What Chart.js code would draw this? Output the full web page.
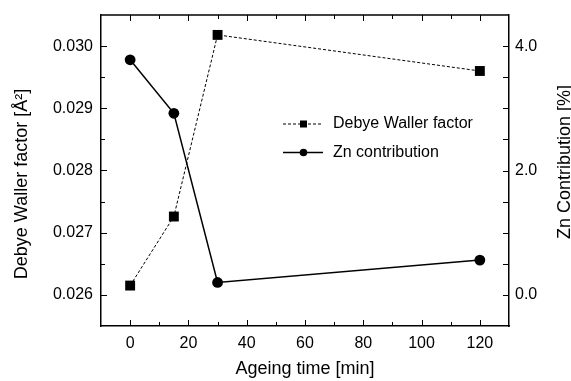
<!DOCTYPE html>
<html>
<head>
<meta charset="utf-8">
<script src="https://cdn.jsdelivr.net/npm/chart.js@4"></script>
<style>
  html, body { margin: 0; padding: 0; background: #fff; }
  #chart { display: block; }
</style>
</head>
<body>
<canvas id="chart" width="571" height="381"></canvas>
<script>
// ageing time in minutes
const ageingTimes = [0, 15, 30, 120];
const debyeWaller = [0.02615, 0.02726, 0.03018, 0.0296];
const znContribution = [3.78, 2.92, 0.20, 0.56];

// tick labels
const xTicks = [0, 20, 40, 60, 80, 100, 120];
const leftTicks = [0.026, 0.027, 0.028, 0.029, 0.030];
const rightTicks = [0.0, 2.0, 4.0];

const FONT = "'Liberation Sans', Arial, sans-serif";

// inward tick marks, frame, axis titles on the sides and legend
const decorations = {
    id: 'decorations',
    afterDraw(chart) {
        const ctx = chart.ctx;
        const area = chart.chartArea;
        const x = chart.scales.x, y = chart.scales.y, y1 = chart.scales.y1;

        ctx.save();
        ctx.strokeStyle = '#000';

        // top frame line
        ctx.lineWidth = 1.5;
        ctx.beginPath();
        ctx.moveTo(area.left, area.top);
        ctx.lineTo(area.right, area.top);
        ctx.stroke();

        ctx.lineWidth = 1;
        ctx.beginPath();
        // x: every 10 min, majors on 20
        for (let i = 0; i <= 12; i++) {
            const v = i * 10;
            const px = Math.round(x.getPixelForValue(v)) + 0.5;
            const len = v % 20 === 0 ? 6 : 4;
            ctx.moveTo(px, area.bottom); ctx.lineTo(px, area.bottom - len);
            ctx.moveTo(px, area.top); ctx.lineTo(px, area.top + len);
        }
        // left: every 0.0005
        for (let i = 52; i <= 60; i++) {
            const py = Math.round(y.getPixelForValue(i / 2000)) + 0.5;
            const len = i % 2 === 0 ? 6 : 4;
            ctx.moveTo(area.left, py); ctx.lineTo(area.left + len, py);
        }
        // right: every 0.5
        for (let i = 0; i <= 8; i++) {
            const py = Math.round(y1.getPixelForValue(i / 2)) + 0.5;
            ctx.moveTo(area.right, py); ctx.lineTo(area.right - 6, py);
        }
        ctx.stroke();

        // side titles, both read bottom-to-top
        ctx.fillStyle = '#000';
        ctx.font = '18px ' + FONT;
        ctx.textAlign = 'center';
        ctx.textBaseline = 'middle';
        ctx.save();
        ctx.translate(22, 184);
        ctx.rotate(-Math.PI / 2);
        ctx.fillText('Debye Waller factor [Å²]', 0, 0);
        ctx.restore();
        ctx.translate(565, 162);
        ctx.rotate(-Math.PI / 2);
        ctx.fillText('Zn Contribution [%]', 0, 0);
        ctx.restore();

        // legend
        ctx.save();
        const lx = area.left + 182, rows = [area.top + 109, area.top + 137.5];
        chart.data.datasets.forEach((ds, i) => {
            const ly = rows[i];
            ctx.strokeStyle = '#000';
            ctx.lineWidth = ds.borderWidth;
            ctx.setLineDash(ds.borderDash || []);
            ctx.beginPath();
            ctx.moveTo(lx, ly); ctx.lineTo(lx + 40, ly);
            ctx.stroke();
            ctx.setLineDash([]);
            ctx.fillStyle = '#000';
            ctx.beginPath();
            if (ds.pointStyle === 'rect') ctx.rect(lx + 17, ly - 3.5, 7, 7);
            else ctx.arc(lx + 20.5, ly, 3.8, 0, Math.PI * 2);
            ctx.fill();
            ctx.font = '16px ' + FONT;
            ctx.textAlign = 'left';
            ctx.textBaseline = 'middle';
            ctx.fillText(ds.label, lx + 50, ly);
        });
        ctx.restore();
    }
};

const noPad = (scale) => {
    scale.paddingTop = 0; scale.paddingBottom = 0;
    scale.paddingLeft = 0; scale.paddingRight = 0;
};

new Chart(document.getElementById('chart'), {
    type: 'line',
    data: {
        datasets: [{
            label: 'Debye Waller factor',
            data: ageingTimes.map((t, i) => ({ x: t, y: debyeWaller[i] })),
            yAxisID: 'y',
            borderColor: '#000',
            backgroundColor: '#000',
            borderWidth: 1,
            borderDash: [3, 2],
            pointStyle: 'rect',
            pointRadius: 7,
            pointBorderWidth: 0,
            tension: 0
        }, {
            label: 'Zn contribution',
            data: ageingTimes.map((t, i) => ({ x: t, y: znContribution[i] })),
            yAxisID: 'y1',
            borderColor: '#000',
            backgroundColor: '#000',
            borderWidth: 1.5,
            pointStyle: 'circle',
            pointRadius: 5.4,
            pointBorderWidth: 0,
            tension: 0
        }]
    },
    options: {
        responsive: false,
        devicePixelRatio: 1,
        animation: false,
        layout: { padding: { top: 15, left: 0, right: 0, bottom: 0 } },
        plugins: { legend: { display: false }, tooltip: { enabled: false } },
        scales: {
            x: {
                type: 'linear',
                min: -10, max: 130,
                afterBuildTicks: s => { s.ticks = xTicks.map(v => ({ value: v })); },
                afterFit: s => { s.height = 55; noPad(s); },
                grid: { display: false, drawTicks: false },
                border: { display: true, color: '#000', width: 1.5 },
                ticks: { color: '#000', font: { family: FONT, size: 16 }, padding: 8, maxRotation: 0 },
                title: { display: true, text: 'Ageing time [min]', color: '#000',
                         font: { family: FONT, size: 18 }, padding: { top: 0, bottom: 1 } }
            },
            y: {
                type: 'linear', position: 'left',
                min: 0.0255, max: 0.0305,
                afterBuildTicks: s => { s.ticks = leftTicks.map(v => ({ value: v })); },
                afterFit: s => { s.width = 101; noPad(s); },
                grid: { display: false, drawTicks: false },
                border: { display: true, color: '#000', width: 1.5 },
                ticks: { color: '#000', font: { family: FONT, size: 16 }, padding: 8,
                         callback: v => v.toFixed(3) }
            },
            y1: {
                type: 'linear', position: 'right',
                min: -0.5, max: 4.5,
                afterBuildTicks: s => { s.ticks = rightTicks.map(v => ({ value: v })); },
                afterFit: s => { s.width = 62; noPad(s); },
                grid: { display: false, drawTicks: false },
                border: { display: true, color: '#000', width: 1.5 },
                ticks: { color: '#000', font: { family: FONT, size: 16 }, padding: 6,
                         callback: v => v.toFixed(1) }
            }
        }
    },
    plugins: [decorations]
});
</script>
</body>
</html>
